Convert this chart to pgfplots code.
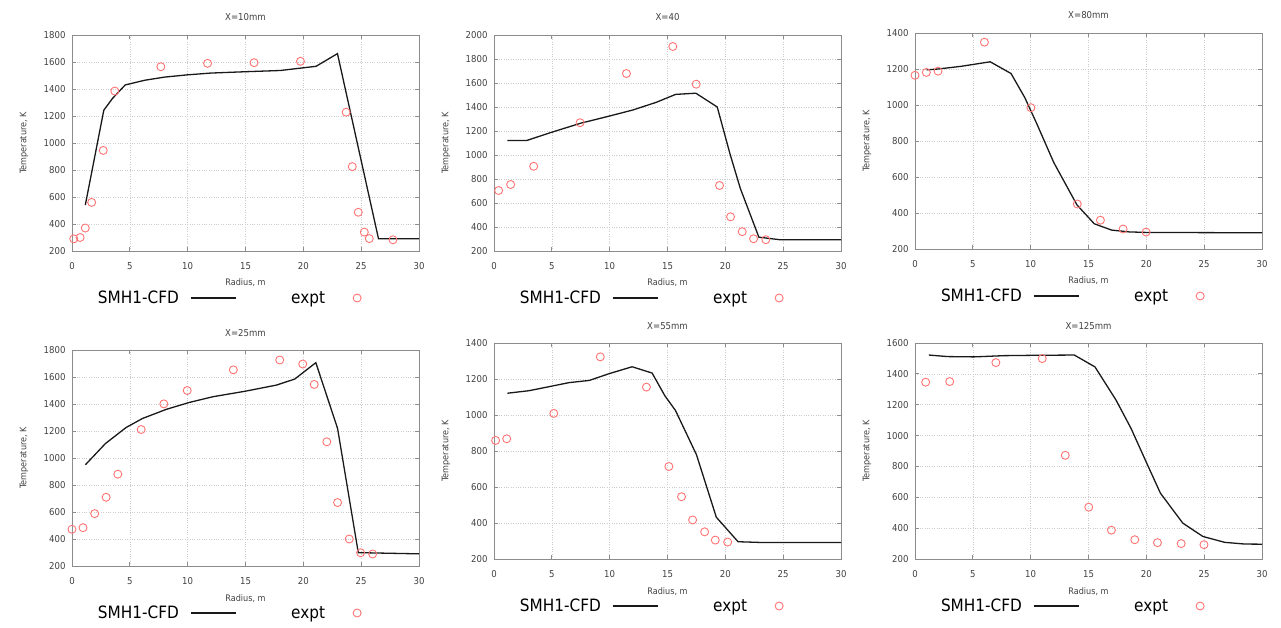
\documentclass[border=0pt]{standalone}
\usepackage{fontspec}
\setmainfont{DejaVu Sans}[FakeStretch=0.9]
\usepackage{pgfplots}
\pgfplotsset{compat=1.18}
\definecolor{exptc}{HTML}{FF7373}
\definecolor{txt}{HTML}{404040}
\definecolor{axc}{HTML}{8C8C8C}

\pgfplotsset{
 panel/.style={
  scale only axis, width=347pt, height=216pt,
  xmin=0, xmax=30, xtick={0,5,...,30},
  clip=false,
  grid=major, major grid style={dotted, line width=0.6pt, gray!40},
  axis line style={axc, line width=0.8pt},
  tick align=inside, major tick length=4pt, tick style={axc, line width=0.8pt},
  every tick label/.append style={font=\fontsize{9.5}{11}\selectfont, text=txt},
  /pgf/number format/assume math mode=true,
  /pgf/number format/1000 sep={},
  xticklabel style={yshift=-8pt},
  yticklabel style={xshift=-3pt},
  title style={font=\fontsize{9.5}{11}\selectfont, text=txt, at={(axis description cs:0.5,1)}, anchor=base, yshift=8pt},
  xlabel={Radius, m}, ylabel={Temperature, K},
  xlabel style={font=\fontsize{9}{11}\selectfont, text=txt, at={(axis description cs:0.5,0)}, anchor=base, yshift=-35pt},
  ylabel style={font=\fontsize{9}{11}\selectfont, text=txt, at={(axis description cs:-0.138,0.5)}, anchor=center},
  legend columns=2, legend plot pos=right,
  legend style={at={(axis description cs:0.0749,-0.2176)}, anchor=west, draw=none, fill=none,
    inner sep=0pt, outer sep=0pt, font=\fontsize{17}{20}\selectfont, text=black,
    nodes={inner sep=0pt}, column sep=0pt,
    /tikz/column 1/.append style={column sep=11pt},
    /tikz/column 2/.append style={column sep=55pt},
    /tikz/column 3/.append style={column sep=28pt}},
 },
 cfd/.style={black!90, line width=1.3pt, no markers,
   legend image code/.code={\draw[##1] (0pt,0pt) -- (45pt,0pt);}},
 ex/.style={only marks, mark=o, mark size=4pt, exptc, mark options={line width=0.9pt},
   legend image code/.code={\draw[##1, mark size=4pt] plot coordinates {(4pt,0pt)};}},
}

\begin{document}
\begin{tikzpicture}
\useasboundingbox (0,0) rectangle (1281pt,627pt);

% ---------- X=10mm ----------
\begin{axis}[panel, at={(72pt,376pt)}, anchor=south west, title={X=10mm},
  ymin=200, ymax=1800, ytick={200,400,...,1800}]
\addplot[cfd] coordinates {(1.15,540) (2.75,1243) (3.5,1330) (4.6,1430) (6.3,1465) (8,1488) (10,1505) (12,1518) (15,1528) (18,1537) (21.1,1568) (22.95,1662) (26.5,290) (30,290)};
\addlegendentry{SMH1-CFD}
\addplot[ex] coordinates {(0.15,290) (0.7,300) (1.15,370) (1.7,560) (2.7,945) (3.7,1385) (7.68,1565) (11.72,1590) (15.74,1595) (19.75,1605) (23.7,1228) (24.23,825) (24.75,487) (25.27,340) (25.7,292) (27.75,283)};
\addlegendentry{expt}
\end{axis}

% ---------- X=40 ----------
\begin{axis}[panel, at={(494pt,376pt)}, anchor=south west, title={X=40},
  ymin=200, ymax=2000, ytick={200,400,...,2000}]
\addplot[cfd] coordinates {(1.15,1120) (2.8,1120) (5,1190) (7.5,1265) (10,1325) (12,1375) (14,1438) (15.7,1505) (17.45,1515) (19.3,1400) (20.4,1010) (21.3,720) (22.9,315) (24.8,293) (30,293)};
\addlegendentry{SMH1-CFD}
\addplot[ex] coordinates {(0.4,704) (1.44,754) (3.43,906) (7.44,1269) (11.45,1679) (15.46,1904) (17.48,1590) (19.5,746) (20.45,485) (21.46,361) (22.44,302) (23.5,294)};
\addlegendentry{expt}
\end{axis}

% ---------- X=80mm ----------
\begin{axis}[panel, at={(915pt,378pt)}, anchor=south west, title={X=80mm},
  ymin=200, ymax=1400, ytick={200,400,...,1400}]
\addplot[cfd] coordinates {(1,1195) (2,1200) (4,1215) (6.5,1240) (8.3,1175) (9.5,1040) (10.5,900) (12,680) (14,445) (15.5,340) (17,305) (18.5,295) (20,292) (30,290)};
\addlegendentry{SMH1-CFD}
\addplot[ex] coordinates {(0,1165) (0.98,1181) (1.99,1188) (6.0,1349) (10.02,985) (14.03,450) (16.03,360) (17.99,311) (19.98,294)};
\addlegendentry{expt}
\end{axis}

% ---------- X=25mm ----------
\begin{axis}[panel, at={(72pt,61pt)}, anchor=south west, title={X=25mm},
  ymin=200, ymax=1800, ytick={200,400,...,1800}]
\addplot[cfd] coordinates {(1.16,950) (2.89,1107) (4.68,1226) (6.1,1293) (8.14,1360) (10.16,1412) (12.19,1454) (15,1495) (17.67,1540) (19.26,1585) (21.08,1706) (22.96,1219) (24.75,299) (30,290)};
\addlegendentry{SMH1-CFD}
\addplot[ex] coordinates {(0,472) (0.95,484) (1.96,588) (2.95,709) (3.96,880) (5.98,1211) (7.94,1401) (9.96,1500) (13.95,1653) (17.96,1726) (19.95,1696) (20.94,1545) (22.03,1120) (22.96,670) (23.97,400) (24.95,298) (25.99,289)};
\addlegendentry{expt}
\end{axis}

% ---------- X=55mm ----------
\begin{axis}[panel, at={(494pt,68pt)}, anchor=south west, title={X=55mm},
  ymin=200, ymax=1400, ytick={200,400,...,1400}]
\addplot[cfd] coordinates {(1.16,1121) (3.03,1135) (5.35,1165) (6.5,1180) (8.24,1192) (9.97,1230) (11.94,1268) (13.67,1233) (14.76,1108) (15.69,1025) (17.5,780) (19.22,432) (21.1,296) (23,292) (30,292)};
\addlegendentry{SMH1-CFD}
\addplot[ex] coordinates {(0.14,859) (1.1,868) (5.17,1009) (9.19,1323) (13.18,1155) (15.12,714) (16.21,546) (17.17,417) (18.21,351) (19.13,305) (20.2,294)};
\addlegendentry{expt}
\end{axis}

% ---------- X=125mm ----------
\begin{axis}[panel, at={(915pt,68pt)}, anchor=south west, title={X=125mm},
  ymin=200, ymax=1600, ytick={200,400,...,1600}]
\addplot[cfd] coordinates {(1.2,1522) (2.8,1512) (5.1,1510) (7.7,1518) (10,1520) (13.77,1522) (15.56,1445) (17.38,1230) (18.68,1046) (20.04,820) (21.22,626) (23.16,432) (24.89,346) (26.77,308) (28.5,297) (30,296)};
\addlegendentry{SMH1-CFD}
\addplot[ex] coordinates {(0.92,1346) (3.0,1350) (6.99,1473) (11.0,1499) (12.99,872) (15.02,536) (16.98,387) (19.0,325) (20.96,306) (23.01,300) (24.98,293)};
\addlegendentry{expt}
\end{axis}
\end{tikzpicture}
\end{document}
